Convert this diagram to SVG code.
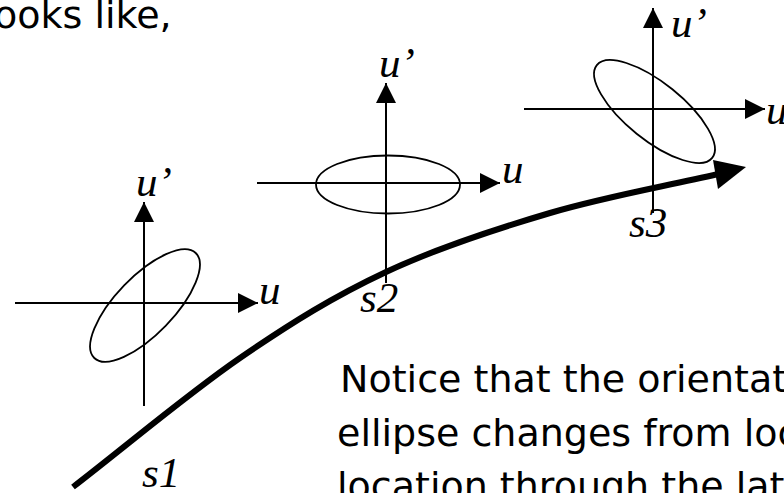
<svg xmlns="http://www.w3.org/2000/svg" width="784" height="493" viewBox="0 0 784 493">
<style>
.ax{stroke:#000;stroke-width:2;fill:none}
.el{stroke:#000;stroke-width:1.8;fill:none}
.lbl{font-family:"Liberation Serif","Times New Roman",serif;font-style:italic;font-size:43px;fill:#000}
.body{font-family:"DejaVu Sans",sans-serif;font-size:38px;fill:#000}
</style>
<defs>
<marker id="ah" markerUnits="userSpaceOnUse" markerWidth="20" markerHeight="20" refX="20" refY="10" orient="auto" viewBox="0 0 20 20">
<path d="M0,0 L20,10 L0,20 z" fill="#000"/>
</marker>
</defs>
<rect width="784" height="493" fill="#fff"/>
<text class="body" x="-6" y="28">ooks like,</text>
<g id="axes1">
<line class="ax" x1="15" y1="303" x2="258" y2="303" marker-end="url(#ah)"/>
<line class="ax" x1="144" y1="406" x2="144" y2="202" marker-end="url(#ah)"/>
<ellipse class="el" cx="145" cy="305.5" rx="73" ry="29" transform="rotate(-46 145 305.5)"/>
<text class="lbl" x="136" y="196">u’</text>
<text class="lbl" x="259" y="304">u</text>
</g>
<g id="axes2">
<line class="ax" x1="257" y1="183" x2="500" y2="183" marker-end="url(#ah)"/>
<line class="ax" x1="386" y1="283" x2="386" y2="83" marker-end="url(#ah)"/>
<ellipse class="el" cx="388" cy="184.5" rx="72" ry="29"/>
<text class="lbl" x="379" y="77">u’</text>
<text class="lbl" x="502" y="183">u</text>
</g>
<g id="axes3">
<line class="ax" x1="524" y1="109" x2="765" y2="109" marker-end="url(#ah)"/>
<line class="ax" x1="653" y1="213" x2="653" y2="8" marker-end="url(#ah)"/>
<ellipse class="el" cx="654.5" cy="111.5" rx="74" ry="28.5" transform="rotate(38.8 654.5 111.5)"/>
<text class="lbl" x="671" y="37">u’</text>
<text class="lbl" x="766" y="124">u</text>
</g>
<g id="connectors">
<path d="M73,487 C128.7,444 187.8,393.8 240,358 C292.2,322.2 334.3,296.2 386,272 C437.7,247.8 494.7,229.3 550,213 C605.3,196.7 662,187 718,174" stroke="#000" stroke-width="6" fill="none"/>
<polygon points="713,160 746,167 718,189" fill="#000"/>
</g>
<g id="stations">
<text class="lbl" x="142" y="487">s1</text>
<text class="lbl" x="360" y="312">s2</text>
<text class="lbl" x="629" y="237">s3</text>
</g>
<g id="note">
<text class="body" x="340" y="392">Notice that the orientat</text>
<text class="body" x="337" y="446">ellipse changes from loc</text>
<text class="body" x="337" y="499">location through the lat</text>
</g>
</svg>
